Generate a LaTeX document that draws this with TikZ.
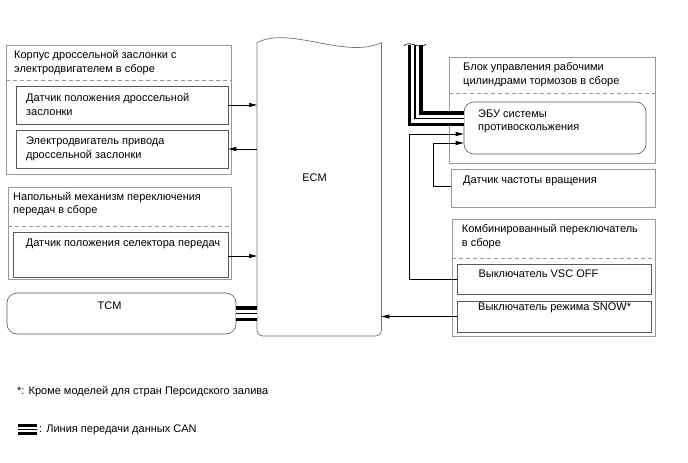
\documentclass[tikz,border=0pt]{standalone}
\usepackage{fontspec}
\setmainfont{Liberation Sans}
\usetikzlibrary{arrows.meta}

\begin{document}
\begin{tikzpicture}[x=1pt, y=-1pt,
  outerbox/.style={draw=black!40, line width=0.9pt, inner sep=0pt},
  innerbox/.style={draw=black!65, line width=0.6pt, inner sep=0pt},
  sep/.style={draw=black!40, line width=0.8pt, dash pattern=on 4pt off 3pt},
  txt/.style={font=\fontsize{11}{13.5}\selectfont, align=left, inner sep=0pt, anchor=north west},
  sig/.style={line width=0.6pt, -{Triangle[length=8pt,width=4pt]}},
  canbus/.style={line width=15pt, line join=miter,
    postaction={draw=white, line width=8pt, line join=miter},
    postaction={draw=black, line width=1.5pt, line join=miter}},
  canmark/.style={line width=10.5pt,
    postaction={draw=white, line width=5.5pt},
    postaction={draw=black, line width=1.2pt}}]
  \useasboundingbox (0,0) rectangle (688,463);

  % throttle body
  \node[outerbox, minimum width=225, minimum height=129] (tbody) at (118.5,109.5) {};
  \draw[sep] (6,80.7) -- (231,80.7);
  \node[txt] (tbodytxt) at (14,50.5) {Корпус дроссельной заслонки с\\электродвигателем в сборе};
  \node[innerbox, minimum width=212, minimum height=38] (tps) at (122,105) {};
  \node[txt] (tpstxt) at (26,93.5) {Датчик положения дроссельной\\заслонки};
  \node[innerbox, minimum width=212, minimum height=38] (motor) at (122,149) {};
  \node[txt] (motortxt) at (26,137) {Электродвигатель привода\\дроссельной заслонки};

  % shift lever
  \node[outerbox, minimum width=223, minimum height=92] (shift) at (119.5,233) {};
  \draw[sep] (8,226.7) -- (231,226.7);
  \node[txt] (shifttxt) at (13,192) {Напольный механизм переключения\\передач в сборе};
  \node[innerbox, minimum width=215, minimum height=45] (gss) at (120.5,254.5) {};
  \node[txt] (gsstxt) at (25.7,238.5) {Датчик положения селектора передач};

  % TCM
  \node[innerbox, rounded corners=10pt, minimum width=229, minimum height=41] (tcm) at (121.5,313.5) {};
  \node[font=\fontsize{11}{13.5}\selectfont, inner sep=0pt] (tcmtxt) at (109.5,306) {TCM};

  % ECM
  \node[minimum width=124, minimum height=293, inner sep=0pt, anchor=south west] (ecm) at (257,336) {};
  \draw[black!55, line width=0.7pt, rounded corners=6pt] (ecm.north west) -- (ecm.south west) -- (ecm.south east) -- (ecm.north east);
  \draw[black!55, line width=0.7pt] (ecm.north west) .. controls +(33,-17) and +(-36,17) .. (ecm.north east);
  \node[font=\fontsize{11}{13.5}\selectfont, inner sep=0pt] (ecmtxt) at (314.5,178) {ECM};

  % brake actuator
  \node[outerbox, minimum width=206, minimum height=106] (brake) at (552,110) {};
  \draw[sep] (449,93) -- (655,93);
  \node[txt] (braketxt) at (463,62.5) {Блок управления рабочими\\цилиндрами тормозов в сборе};
  \node[innerbox, rounded corners=10pt, minimum width=182, minimum height=52] (ecu) at (555,128) {};
  \node[txt] (ecutxt) at (478,109.2) {ЭБУ системы\\противоскольжения};

  % speed sensor
  \node[outerbox, minimum width=204, minimum height=38] (speed) at (553,188) {};
  \node[txt] (speedtxt) at (463,176) {Датчик частоты вращения};

  % combination switch
  \node[outerbox, minimum width=203, minimum height=117] (comb) at (553.5,277.5) {};
  \draw[sep] (452,258.3) -- (655,258.3);
  \node[txt] (combtxt) at (461.7,224.5) {Комбинированный переключатель\\в сборе};
  \node[innerbox, minimum width=194, minimum height=30] (vsc) at (554,279) {};
  \node[txt] (vsctxt) at (478.3,269.3) {Выключатель VSC OFF};
  \node[innerbox, minimum width=194, minimum height=31] (snow) at (554,316.5) {};
  \node[txt] (snowtxt) at (478,303) {Выключатель режима SNOW*};

  % signals
  \draw[sig] (tps.east) -- (tps.east -| ecm.west);
  \draw[sig] (ecm.west |- motor.east) -- (motor.east);
  \draw[sig] ([yshift=-1.5pt]gss.east) -- ([yshift=-1.5pt]gss.east -| ecm.west);
  \draw[sig] (vsc.west) -- ++(-47,0) |- ([yshift=-6pt]ecu.west);
  \draw[sig] ([yshift=2pt]speed.west) -- ++(-17,0) |- ([yshift=-15pt]ecu.west);
  \draw[sig] (snow.west) -- (snow.west -| ecm.east);

  % CAN
  \coordinate (cantop) at (415,45);
  \draw[canbus] (tcm.east) -- (tcm.east -| ecm.west);
  \draw[canbus] ([yshift=9.5pt]ecu.west) -| (cantop);
  \draw[line width=0.6pt] (cantop) ++(-11,1) .. controls +(5,-7) and +(-5,7) .. ++(22,-2);

  % legend
  \node[txt] (note) at (17,386) {*: Кроме моделей для стран Персидского залива};
  \coordinate (legA) at (18,429.5);
  \coordinate (legB) at (37,429.5);
  \draw[canmark] (legA) -- (legB);
  \node[txt] (legtxt) at (39,425) {: Линия передачи данных CAN};
\end{tikzpicture}
\end{document}
